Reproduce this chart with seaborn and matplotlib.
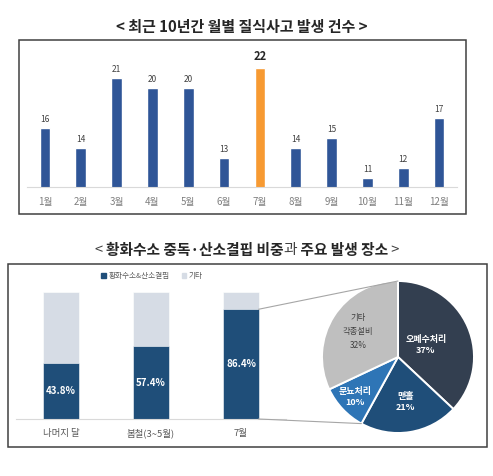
import numpy as np
import pandas as pd
import matplotlib
matplotlib.use("Agg")
import matplotlib.pyplot as plt
import seaborn as sns
from matplotlib.patches import Rectangle, ConnectionPatch, Patch

# ---------------- data ----------------
months = ["1월", "2월", "3월", "4월", "5월", "6월", "7월", "8월", "9월", "10월", "11월", "12월"]
counts = [16, 14, 21, 20, 20, 13, 22, 14, 15, 11, 12, 17]
highlight_month = "7월"

groups = ["나머지 달", "봄철(3~5월)", "7월"]
h2s_share = [43.8, 57.4, 86.4]
series_names = ["황화수소&산소결핍", "기타"]

places = ["오폐수처리", "맨홀", "분뇨처리", "기타\n각종설비"]
place_share = [37, 21, 10, 32]

title_top = "< 최근 10년간 월별 질식사고 발생 건수 >"
title_bottom = [("< ", "normal"), ("황화수소 중독·산소결핍 비중", "bold"), ("과", "normal"),
                (" 주요 발생 장소", "bold"), (" >", "normal")]

# ---------------- style ----------------
sns.set_style("white")
plt.rcParams["font.family"] = ["Noto Sans CJK KR", "DejaVu Sans"]

BLUE = "#2F5597"
ORANGE = "#F79A32"
DARK = "#1F4E79"
LIGHT = "#D6DCE5"
PIE_COLORS = ["#333F50", "#1F4E79", "#2E75B6", "#BFBFBF"]
GREY_TXT = "#595959"

W, H = 493, 476
fig = plt.figure(figsize=(W / 100, H / 100), dpi=100)
fig.patch.set_facecolor("white")


def px_axes(x0, y0, x1, y1):
    return fig.add_axes([x0 / W, 1 - y1 / H, (x1 - x0) / W, (y1 - y0) / H])


def px_rect(x0, y0, x1, y1, **kw):
    r = Rectangle((x0 / W, 1 - y1 / H), (x1 - x0) / W, (y1 - y0) / H,
                  transform=fig.transFigure, fill=False, **kw)
    fig.add_artist(r)


# boxes
px_rect(19, 40, 466, 214, ec="#404040", lw=1.1)
px_rect(8, 264, 487, 447, ec="#404040", lw=1.1)

# ---------------- top chart ----------------
ax1 = px_axes(27, 50, 457, 187)
df1 = pd.DataFrame({"month": months, "count": counts})
pal = {m: (ORANGE if m == highlight_month else BLUE) for m in months}
sns.barplot(data=df1, x="month", y="count", hue="month", palette=pal, legend=False,
            order=months, width=0.3, saturation=1, ax=ax1)
ax1.set_xlim(-0.5, len(months) - 0.5)
ax1.set_ylim(10.1, 23.8)
ax1.set_xlabel("")
ax1.set_ylabel("")
ax1.set_yticks([])
for s in ["top", "left", "right"]:
    ax1.spines[s].set_visible(False)
ax1.spines["bottom"].set_color("#D9D9D9")
ax1.spines["bottom"].set_linewidth(0.8)
ax1.tick_params(axis="x", length=0, pad=7, labelsize=7, labelcolor="#7F7F7F")
for i, (m, v) in enumerate(zip(months, counts)):
    if m == highlight_month:
        ax1.annotate(str(v), (i, v), xytext=(0, 3.5), textcoords="offset points",
                     ha="center", va="bottom", fontsize=8, fontweight="bold", color="#262626")
    else:
        ax1.annotate(str(v), (i, v), xytext=(0, 3), textcoords="offset points",
                     ha="center", va="bottom", fontsize=6, color="#404040")

fig.text(242 / W, 1 - 27 / H, title_top, ha="center", va="center",
         fontsize=10.8, fontweight="bold", color="#262626")

# ---------------- bottom-left stacked bars ----------------
ax2 = px_axes(16, 292, 286, 419)
bw = 0.39
sns.barplot(x=groups, y=[100] * len(groups), color=LIGHT, saturation=1, width=bw,
            order=groups, ax=ax2)
sns.barplot(x=groups, y=h2s_share, color=DARK, saturation=1, width=bw,
            order=groups, ax=ax2)
for p in ax2.patches:
    p.set_edgecolor("white")
    p.set_linewidth(0.4)
ax2.set_xlim(-0.5, len(groups) - 0.5)
ax2.set_ylim(0, 100)
ax2.set_yticks([])
ax2.set_xlabel("")
ax2.set_ylabel("")
for s in ["top", "left", "right"]:
    ax2.spines[s].set_visible(False)
ax2.spines["bottom"].set_color("#D9D9D9")
ax2.spines["bottom"].set_linewidth(0.8)
ax2.tick_params(axis="x", length=0, pad=7, labelsize=6.8, labelcolor=GREY_TXT)
for i, v in enumerate(h2s_share):
    ax2.text(i, v / 2, f"{v:.1f}%", ha="center", va="center", color="white",
             fontsize=7, fontweight="bold")

fig.legend(handles=[Patch(color=DARK), Patch(color=LIGHT)], labels=series_names,
           loc="center", bbox_to_anchor=(152 / W, 1 - 276 / H), ncol=2, frameon=False,
           fontsize=5.5, handlelength=0.6, handleheight=0.6, handletextpad=0.3,
           columnspacing=1.6, labelcolor=GREY_TXT)

# ---------------- pie ----------------
ax3 = px_axes(322, 281, 474, 433)
wedges, _ = ax3.pie(place_share, colors=PIE_COLORS, startangle=90, counterclock=False,
                    radius=1, wedgeprops=dict(edgecolor="white", linewidth=1.4))
ax3.set_xlim(-1, 1)
ax3.set_ylim(-1, 1)
label_dist = [0.40, 0.60, 0.77, 0.62]
total = sum(place_share)
cum = 0
for name, v, d, c in zip(places, place_share, label_dist, PIE_COLORS):
    mid = np.deg2rad(90 - 360 * (cum + v / 2) / total)
    cum += v
    light = c == "#BFBFBF"
    ax3.text(d * np.cos(mid), d * np.sin(mid), f"{name}\n{v}%", ha="center", va="center",
             color="#404040" if light else "white", fontsize=6 if light else 6.5,
             fontweight="normal" if light else "bold", linespacing=1.7 if light else 1.25)

# connector lines from 7월 bar to pie
bar_right = len(groups) - 1 + bw / 2
theta_low = np.deg2rad(90 - 360 * (place_share[0] + place_share[1]) / total)
for ya, xyb in [(h2s_share[-1], (0, 1)), (0, (np.cos(theta_low), np.sin(theta_low)))]:
    con = ConnectionPatch(xyA=(bar_right, ya), coordsA=ax2.transData,
                          xyB=xyb, coordsB=ax3.transData, color="#A6A6A6", lw=0.8)
    fig.add_artist(con)

# ---------------- bottom title (mixed weight) ----------------
renderer = fig.canvas.get_renderer()
texts = []
for s, wgt in title_bottom:
    t = fig.text(0, 1 - 250 / H, s, ha="left", va="center", fontsize=10.6,
                 fontweight=wgt, color="#262626" if wgt == "bold" else "#404040")
    texts.append(t)
widths = [t.get_window_extent(renderer).width for t in texts]
x = 247 - sum(widths) / 2
for t, w in zip(texts, widths):
    t.set_x(x / W)
    x += w

fig.savefig("out.png", dpi=100, facecolor="white")
